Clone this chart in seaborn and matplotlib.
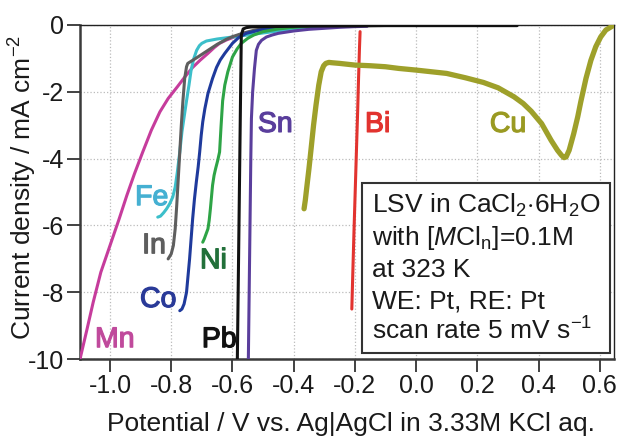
import matplotlib
matplotlib.use("Agg")
import matplotlib.pyplot as plt
import matplotlib.patheffects as pe
import seaborn as sns
from matplotlib.patches import Rectangle

# LSV curves, potential (V vs Ag|AgCl) and current density (mA cm-2)
mn_x = [-1.098, -1.075, -1.055, -1.03, -1.0, -0.97, -0.945, -0.92, -0.893, -0.865, -0.837,
        -0.81, -0.78, -0.755, -0.73, -0.705, -0.68, -0.66, -0.642, -0.62, -0.6, -0.567,
        -0.53, -0.5, -0.45, -0.4, -0.3, -0.2, -0.1]
mn_y = [-10.0, -9.1, -8.3, -7.4, -6.6, -5.8, -5.1, -4.45, -3.8, -3.15, -2.6,
        -2.2, -1.85, -1.55, -1.27, -1.05, -0.85, -0.68, -0.55, -0.45, -0.38, -0.26,
        -0.18, -0.13, -0.09, -0.06, -0.03, -0.015, -0.01]

fe_x = [-0.844, -0.835, -0.825, -0.815, -0.805, -0.795, -0.787, -0.78, -0.772, -0.765,
        -0.757, -0.75, -0.742, -0.735, -0.726, -0.717, -0.708, -0.70, -0.685, -0.65,
        -0.6, -0.55, -0.5, -0.45, -0.4, -0.35, -0.3]
fe_y = [-5.75, -5.72, -5.62, -5.5, -5.35, -5.15, -4.85, -4.4, -3.8, -3.2,
        -2.7, -2.27, -1.8, -1.35, -1.0, -0.76, -0.62, -0.55, -0.48, -0.42,
        -0.36, -0.3, -0.24, -0.18, -0.13, -0.1, -0.08]

in_x = [-0.81, -0.80, -0.793, -0.787, -0.782, -0.777, -0.772, -0.767, -0.762, -0.756,
        -0.75, -0.746, -0.72, -0.7, -0.67, -0.65, -0.62, -0.6, -0.567, -0.53, -0.5, -0.45, -0.4]
in_y = [-7.0, -6.85, -6.6, -6.1, -5.4, -4.6, -3.8, -3.0, -2.3, -1.6,
        -1.25, -1.15, -1.0, -0.88, -0.7, -0.58, -0.43, -0.35, -0.25, -0.16, -0.11, -0.07, -0.05]

co_x = [-0.772, -0.765, -0.758, -0.75, -0.745, -0.74, -0.735, -0.73, -0.724, -0.718, -0.712,
        -0.707, -0.702, -0.697, -0.69, -0.68, -0.665, -0.652, -0.64, -0.625, -0.6,
        -0.58, -0.555, -0.5, -0.45, -0.4, -0.3]
co_y = [-8.55, -8.5, -8.35, -8.0, -7.5, -7.0, -6.4, -5.8, -5.2, -4.7, -4.25,
        -3.8, -3.3, -2.9, -2.5, -2.05, -1.6, -1.27, -1.05, -0.85, -0.55,
        -0.38, -0.25, -0.13, -0.08, -0.05, -0.02]

ni_x = [-0.697, -0.692, -0.686, -0.68, -0.676, -0.672, -0.668, -0.665, -0.66, -0.655,
        -0.648, -0.642, -0.637, -0.632, -0.625, -0.615, -0.6, -0.585, -0.571, -0.55,
        -0.53, -0.5, -0.45, -0.4, -0.35]
ni_y = [-6.5, -6.4, -6.25, -6.1, -5.85, -5.5, -5.1, -4.8, -4.5, -4.3,
        -4.05, -3.8, -3.0, -2.27, -1.8, -1.4, -0.96, -0.72, -0.55, -0.4,
        -0.3, -0.2, -0.12, -0.07, -0.04]

pb_x = [-0.584, -0.582, -0.58, -0.578, -0.576, -0.574, -0.572, -0.571, -0.565, -0.555,
        -0.54, -0.5, -0.4, -0.3, -0.2, -0.1, 0.0, 0.1, 0.2, 0.3, 0.33]
pb_y = [-10.0, -8.5, -7.0, -5.5, -4.0, -2.5, -1.0, -0.3, -0.12, -0.08,
        -0.06, -0.05, -0.04, -0.03, -0.03, -0.02, -0.02, -0.02, -0.02, -0.02, -0.02]

sn_x = [-0.548, -0.546, -0.544, -0.542, -0.54, -0.538, -0.534, -0.528, -0.522, -0.515,
        -0.505, -0.489, -0.47, -0.45, -0.4, -0.35, -0.3, -0.25, -0.2, -0.16]
sn_y = [-10.0, -8.5, -7.0, -5.5, -4.0, -2.8, -2.0, -1.3, -0.76, -0.58,
        -0.46, -0.36, -0.3, -0.25, -0.18, -0.13, -0.1, -0.07, -0.05, -0.04]

bi_x = [-0.21, -0.207, -0.203, -0.199, -0.195, -0.191, -0.188, -0.185, -0.183]
bi_y = [-8.5, -7.5, -6.2, -5.0, -3.8, -2.6, -1.6, -0.7, -0.2]

cu_x = [-0.366, -0.362, -0.357, -0.35, -0.343, -0.335, -0.327, -0.318, -0.31, -0.302,
        -0.295, -0.285, -0.275, -0.25, -0.2, -0.15, -0.1, -0.057, 0.0, 0.05, 0.1,
        0.161, 0.22, 0.268, 0.32, 0.35, 0.376, 0.41, 0.441, 0.462, 0.475, 0.483,
        0.49, 0.5, 0.515, 0.528, 0.538, 0.555, 0.571, 0.587, 0.603, 0.62, 0.642]
cu_y = [-5.5, -5.25, -4.85, -4.3, -3.7, -3.0, -2.4, -1.8, -1.4, -1.22,
        -1.15, -1.12, -1.13, -1.15, -1.2, -1.22, -1.25, -1.3, -1.35, -1.4, -1.45,
        -1.58, -1.72, -1.88, -2.15, -2.35, -2.58, -2.95, -3.45, -3.75, -3.9, -3.97,
        -3.95, -3.75, -3.25, -2.75, -2.3, -1.6, -1.06, -0.65, -0.36, -0.15, -0.03]

metals = ["Mn", "Fe", "In", "Co", "Ni", "Pb", "Sn", "Bi", "Cu"]
curves = {
    "Mn": (mn_x, mn_y), "Fe": (fe_x, fe_y), "In": (in_x, in_y), "Co": (co_x, co_y),
    "Ni": (ni_x, ni_y), "Pb": (pb_x, pb_y), "Sn": (sn_x, sn_y), "Bi": (bi_x, bi_y),
    "Cu": (cu_x, cu_y),
}
line_colors = {"Mn": "#c63c9c", "Fe": "#3cbfca", "In": "#5e5e5e", "Co": "#1f3a9c",
               "Ni": "#2ea446", "Pb": "#111111", "Sn": "#5a3e9c", "Bi": "#e2332f",
               "Cu": "#9ea02a"}
label_colors = {"Mn": "#c04a9c", "Fe": "#45b0d2", "In": "#5e5e5e", "Co": "#2a3a98",
                "Ni": "#22703a", "Pb": "#111111", "Sn": "#5a3e9c", "Bi": "#e2332f",
                "Cu": "#9a9a22"}
# label anchor points (left, baseline) in data coords
label_pos = {"Mn": (-1.049, -9.64), "Fe": (-0.918, -5.39), "In": (-0.895, -6.83),
             "Co": (-0.902, -8.44), "Ni": (-0.706, -7.28), "Pb": (-0.70, -9.64),
             "Sn": (-0.517, -3.2), "Bi": (-0.167, -3.2), "Cu": (0.241, -3.2)}

box_lines = [
    r"LSV in CaCl$_2$$\cdot$6H$_2$O",
    r"with [$M$Cl$_\mathregular{n}$]=0.1M",
    "at 323 K",
    "WE: Pt, RE: Pt",
    r"scan rate 5 mV s$^{-1}$",
]

sns.set_theme(style="ticks")
plt.rcParams["font.family"] = ["Liberation Sans", "DejaVu Sans"]
plt.rcParams["mathtext.fontset"] = "custom"
plt.rcParams["mathtext.rm"] = "Liberation Sans"
plt.rcParams["mathtext.it"] = "Liberation Sans:italic"
plt.rcParams["mathtext.bf"] = "Liberation Sans:bold"
plt.rcParams["axes.unicode_minus"] = False

fig, ax = plt.subplots(figsize=(6.27, 4.38), dpi=100)
fig.subplots_adjust(left=0.1276, right=0.979, top=0.943, bottom=0.180)

for m in metals:
    xs, ys = curves[m]
    sns.lineplot(x=xs, y=ys, sort=False, estimator=None, color=line_colors[m],
                 lw=3.8 if m == "Cu" else 2.2, ax=ax, zorder=4 if m == "Pb" else 3)

for m in metals:
    ax.text(*label_pos[m], m, color=label_colors[m], fontsize=20.5,
            ha="left", va="baseline", zorder=6,
            path_effects=[pe.withStroke(linewidth=0.9, foreground=label_colors[m])])

ax.set_xlim(-1.098, 0.646)
ax.set_ylim(-10, 0)
ax.set_xticks([-1.0, -0.8, -0.6, -0.4, -0.2, 0.0, 0.2, 0.4, 0.6])
ax.set_xticklabels(["-1.0", "-0.8", "-0.6", "-0.4", "-0.2", "0.0", "0.2", "0.4", "0.6"])
ax.set_yticks([0, -2, -4, -6, -8, -10])
ax.set_yticklabels(["0", "-2", "-4", "-6", "-8", "-10"])
ax.grid(True, ls=":", color="#bbbbbb", lw=0.9)
ax.tick_params(axis="both", labelsize=18, length=9.5, width=1.3, color="#333333",
               direction="out", labelcolor="#1a1a1a")
ax.tick_params(axis="x", pad=1)
ax.tick_params(axis="y", pad=2)
for side in ["left", "bottom"]:
    ax.spines[side].set_linewidth(1.8)
    ax.spines[side].set_color("#3a3a3a")
for side in ["top", "right"]:
    ax.spines[side].set_linewidth(1.0)
    ax.spines[side].set_color("#222222")

ax.set_xlabel("Potential / V vs. Ag|AgCl in 3.33M KCl aq.", fontsize=19, color="#1a1a1a")
ax.xaxis.set_label_coords(0.508, -0.2156)
ax.xaxis.label.set_va("baseline")
ax.set_ylabel(r"Current density / mA cm$^{-2}$", fontsize=19, color="#1a1a1a")
ax.yaxis.set_label_coords(-0.107, 0.515)
ax.yaxis.label.set_va("center")

ax.add_patch(Rectangle((0.528, 0.018), 0.4645, 0.509, transform=ax.transAxes,
                       facecolor="white", edgecolor="#333333", lw=1.5, zorder=7))
for i, line in enumerate(box_lines):
    ax.text(0.547, 0.437 - i * 0.0949, line, transform=ax.transAxes, fontsize=19,
            ha="left", va="baseline", zorder=8, color="#1a1a1a")

fig.savefig("out.png", dpi=100)
